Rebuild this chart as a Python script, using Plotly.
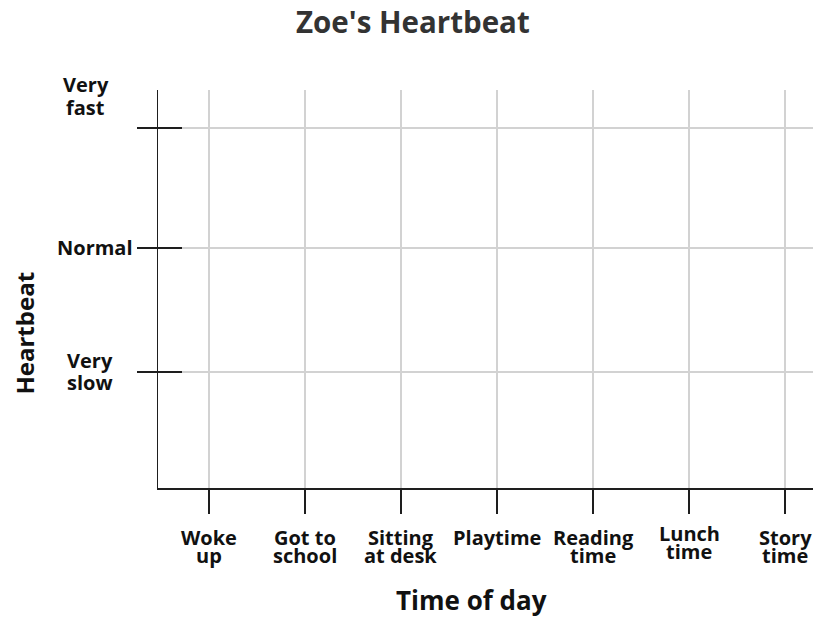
import plotly.graph_objects as go

# ---- data ----
title_text = "Zoe's Heartbeat"
categories = [["Woke", "up"], ["Got to", "school"], ["Sitting", "at desk"], ["Playtime"],
              ["Reading", "time"], ["Lunch", "time"], ["Story", "time"]]
level_labels = [["Very", "slow"], ["Normal"], ["Very", "fast"]]
level_values = [116, 240, 360]
x_title = "Time of day"
y_title = "Heartbeat"

# ---- style ----
FONT = "Open Sans"
AXIS_COL = "#1e1e1e"
GRID_COL = "#d2d2d2"
TEXT_COL = "#111111"
y_label_xshift = [-68, -63, -72.5]       # label centre from the y axis line
y_label_first_shift = [12, 0.5, 43.8]    # first line centre above the tick
y_line_gap = 22.8
x_label_first_shift = -49                # first line centre below the x axis line
x_line_gap = 18.2
x_label_dy = [0, 0, 0, 0, 0, 3.5, 0]

x_idx = list(range(len(categories)))

fig = go.Figure()
fig.add_trace(go.Scatter(x=x_idx, y=[None] * len(x_idx), mode="markers",
                         showlegend=False, hoverinfo="skip"))
fig.add_trace(go.Scatter(x=x_idx, y=[None] * len(x_idx), mode="markers",
                         yaxis="y2", showlegend=False, hoverinfo="skip"))

fig.update_layout(
    width=815, height=619,
    margin=dict(l=158, r=2, t=90, b=131),
    paper_bgcolor="white", plot_bgcolor="white",
    xaxis=dict(range=[-0.53, 6.29], tickvals=x_idx, showticklabels=False,
               showgrid=True, gridcolor=GRID_COL, gridwidth=1.6,
               showline=True, linecolor=AXIS_COL, linewidth=1.5,
               ticks="outside", ticklen=24, tickwidth=1.5, tickcolor=AXIS_COL,
               zeroline=False, fixedrange=True),
    yaxis=dict(range=[0, 398], tickvals=level_values, showticklabels=False,
               showgrid=True, gridcolor=GRID_COL, gridwidth=1.6,
               showline=True, linecolor=AXIS_COL, linewidth=1.5,
               ticks="outside", ticklen=20, tickwidth=1.5, tickcolor=AXIS_COL,
               zeroline=False, fixedrange=True),
    yaxis2=dict(range=[0, 398], overlaying="y", side="left", tickvals=level_values,
                showticklabels=False, showgrid=False, showline=False,
                ticks="inside", ticklen=24, tickwidth=1.5, tickcolor=AXIS_COL,
                zeroline=False, fixedrange=True),
)

# y tick labels, line by line
for lines, val, xs, ys in zip(level_labels, level_values, y_label_xshift, y_label_first_shift):
    for k, line in enumerate(lines):
        fig.add_annotation(text=f"<b>{line}</b>", xref="paper", yref="y", x=0, y=val,
                           xanchor="center", yanchor="middle", xshift=xs,
                           yshift=ys - k * y_line_gap, showarrow=False,
                           font=dict(family=FONT, size=20, color=TEXT_COL))

# x tick labels, line by line
for i, (lines, dy) in zip(x_idx, zip(categories, x_label_dy)):
    for k, line in enumerate(lines):
        fig.add_annotation(text=f"<b>{line}</b>", xref="x", yref="paper", x=i, y=0,
                           xanchor="center", yanchor="middle",
                           yshift=x_label_first_shift + dy - k * x_line_gap,
                           showarrow=False,
                           font=dict(family=FONT, size=20, color=TEXT_COL))

# titles
fig.add_annotation(text=f"<b>{title_text}</b>", xref="paper", yref="paper",
                   x=0.3893, y=1, xanchor="center", yanchor="middle", yshift=68.5,
                   showarrow=False, font=dict(family=FONT, size=29.5, color="#333333"))
fig.add_annotation(text=f"<b>{x_title}</b>", xref="paper", yref="paper",
                   x=0.4779, y=0, xanchor="center", yanchor="middle", yshift=-112,
                   showarrow=False, font=dict(family=FONT, size=26, color=TEXT_COL))
fig.add_annotation(text=f"<b>{y_title}</b>", xref="paper", yref="paper",
                   x=0, y=0.389, xanchor="center", yanchor="middle", xshift=-133.6,
                   textangle=-90, showarrow=False,
                   font=dict(family=FONT, size=24, color=TEXT_COL))

fig.write_html("out.html",
               config={"displayModeBar": False, "staticPlot": True},
               post_script="document.body.style.margin='0';"
                           "document.body.style.overflow='hidden';")
